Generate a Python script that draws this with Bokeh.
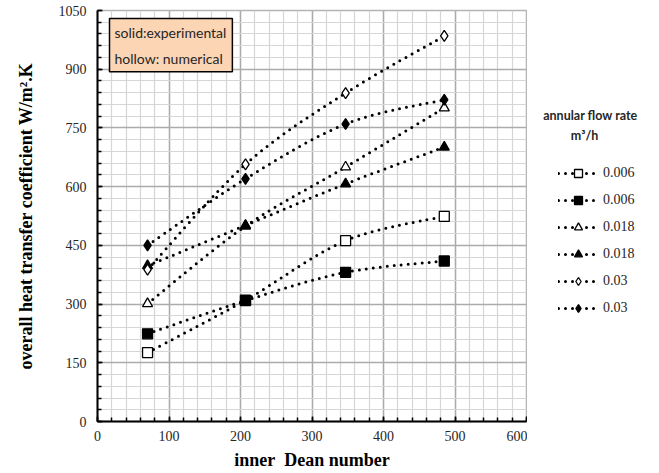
from bokeh.plotting import figure
from bokeh.layouts import row
from bokeh.models import (ColumnDataSource, SingleIntervalTicker, Legend, LegendItem, Label)
from bokeh.embed import file_html
from bokeh.resources import INLINE

# ---- data ----
dean = [70, 207, 347, 485]
num_006 = [176, 310, 462, 524]
exp_006 = [224, 309, 381, 410]
num_018 = [301, 499, 650, 801]
exp_018 = [398, 501, 607, 701]
num_03 = [388, 657, 839, 985]
exp_03 = [450, 620, 760, 822]
labels = ["0.006", "0.006", "0.018", "0.018", "0.03", "0.03"]

series = [
    (num_006, "square", True),
    (exp_006, "square", False),
    (num_018, "triangle", True),
    (exp_018, "triangle", False),
    (num_03, "diamond", True),
    (exp_03, "diamond", False),
]

LINE = dict(line_color="black", line_width=3, line_dash="0 7", line_cap="round")
SIZES = {"square": 10, "triangle": 10, "diamond": 11}


def bezier_source(ys):
    """Excel-style smoothing: cubic Bezier segments through the data points."""
    n = len(dean)
    cols = {k: [] for k in ("x0", "y0", "x1", "y1", "cx0", "cy0", "cx1", "cy1")}
    for i in range(n - 1):
        i0 = max(i - 1, 0)
        i3 = min(i + 2, n - 1)
        x0, y0 = dean[i], ys[i]
        x1, y1 = dean[i + 1], ys[i + 1]
        cols["x0"].append(x0); cols["y0"].append(y0)
        cols["x1"].append(x1); cols["y1"].append(y1)
        cols["cx0"].append(x0 + (x1 - dean[i0]) / 6.0)
        cols["cy0"].append(y0 + (y1 - ys[i0]) / 6.0)
        cols["cx1"].append(x1 - (dean[i3] - x0) / 6.0)
        cols["cy1"].append(y1 - (ys[i3] - y0) / 6.0)
    return ColumnDataSource(cols)


BZ = dict(x0="x0", y0="y0", x1="x1", y1="y1", cx0="cx0", cy0="cy0",
          cx1="cx1", cy1="cy1")

p = figure(width=527, height=473, x_range=(0, 600), y_range=(0, 1050),
           output_backend="svg", toolbar_location=None,
           min_border_left=97, min_border_right=1, min_border_top=10,
           min_border_bottom=52, background_fill_color="white",
           border_fill_color="white")

p.outline_line_color = "#b4b4b4"
p.outline_line_width = 1.5

p.xaxis.ticker = SingleIntervalTicker(interval=100, num_minor_ticks=5)
p.yaxis.ticker = SingleIntervalTicker(interval=150, num_minor_ticks=5)

for g in (p.xgrid, p.ygrid):
    g.grid_line_color = "#ababab"
    g.grid_line_width = 1.5
    g.minor_grid_line_color = "#d6d6d6"
    g.minor_grid_line_width = 1.2

for ax in (p.xaxis, p.yaxis):
    ax.axis_line_color = "black"
    ax.axis_line_width = 2
    ax.major_tick_in = 5
    ax.major_tick_out = 0
    ax.minor_tick_in = 4
    ax.minor_tick_out = 0
    ax.major_tick_line_color = "black"
    ax.minor_tick_line_color = "black"
    ax.major_tick_line_width = 1.5
    ax.minor_tick_line_width = 1.5
    ax.major_label_text_font = "Liberation Serif"
    ax.major_label_text_font_size = "14px"
    ax.major_label_text_color = "#262626"
    ax.axis_label_text_font = "Liberation Serif"
    ax.axis_label_text_font_size = "18px"
    ax.axis_label_text_font_style = "bold"
    ax.axis_label_text_color = "black"

p.xaxis.axis_label = "inner\u00a0 Dean number"
p.yaxis.axis_label = "overall heat transfer coefficient W/m\u00b2.K"
p.xaxis.major_label_standoff = 9
p.yaxis.major_label_standoff = 11
p.xaxis.axis_label_standoff = 6
p.yaxis.axis_label_standoff = 20

for ys, marker, hollow in series:
    p.bezier(source=bezier_source(ys), **BZ, **LINE)

for ys, marker, hollow in series:
    p.scatter(x=dean, y=ys, marker=marker, size=SIZES[marker],
              line_color="black", line_width=1.3,
              fill_color="white" if hollow else "black")

# note box
note = Label(x=12, y=403, x_units="screen", y_units="screen",
             text="solid:experimental\nhollow: numerical",
             text_font="Lato", text_font_size="14px", text_color="#262626",
             text_align="left", text_baseline="top", text_line_height=1.55,
             background_fill_color="#FCD5B4", border_line_color="black",
             border_line_width=1.5,
             padding=dict(left=5, right=6, top=5, bottom=5))
p.add_layout(note)

# ---- legend panel (right) ----
q = figure(width=132, height=473, x_range=(0, 132), y_range=(0, 473),
           output_backend="svg", toolbar_location=None,
           min_border_left=0, min_border_right=0, min_border_top=0,
           min_border_bottom=0, background_fill_color="white",
           border_fill_color="white")
q.axis.visible = False
q.grid.visible = False
q.outline_line_color = None

items = []
for lab, (ys, marker, hollow) in zip(labels, series):
    lr = q.bezier(source=bezier_source(ys), visible=False, **BZ, **LINE)
    mr = q.scatter(x=dean, y=ys, marker=marker, size=SIZES[marker],
                   line_color="black", line_width=1.3, visible=False,
                   fill_color="white" if hollow else "black")
    items.append(LegendItem(label=lab, renderers=[lr, mr]))

legend = Legend(items=items, location=(31, 103), orientation="vertical",
                glyph_width=40, glyph_height=20, label_height=20, spacing=7,
                padding=0, margin=0, label_standoff=5,
                label_text_font="Liberation Serif", label_text_font_size="14px",
                label_text_color="#262626", inactive_fill_alpha=0,
                background_fill_alpha=0, border_line_alpha=0)
q.add_layout(legend, "center")

t1 = Label(x=63, y=306, x_units="screen", y_units="screen",
           text="annular flow rate", text_font="Lato", text_font_size="12.5px",
           text_font_style="bold", text_align="center", text_baseline="middle",
           text_color="#262626")
t2 = Label(x=57, y=286, x_units="screen", y_units="screen",
           text="m\u00b3/h", text_font="Lato", text_font_size="12.5px",
           text_font_style="bold", text_align="center", text_baseline="middle",
           text_color="#262626")
q.add_layout(t1)
q.add_layout(t2)

layout = row(p, q, spacing=0)
open("out.html", "w").write(file_html(layout, INLINE))
